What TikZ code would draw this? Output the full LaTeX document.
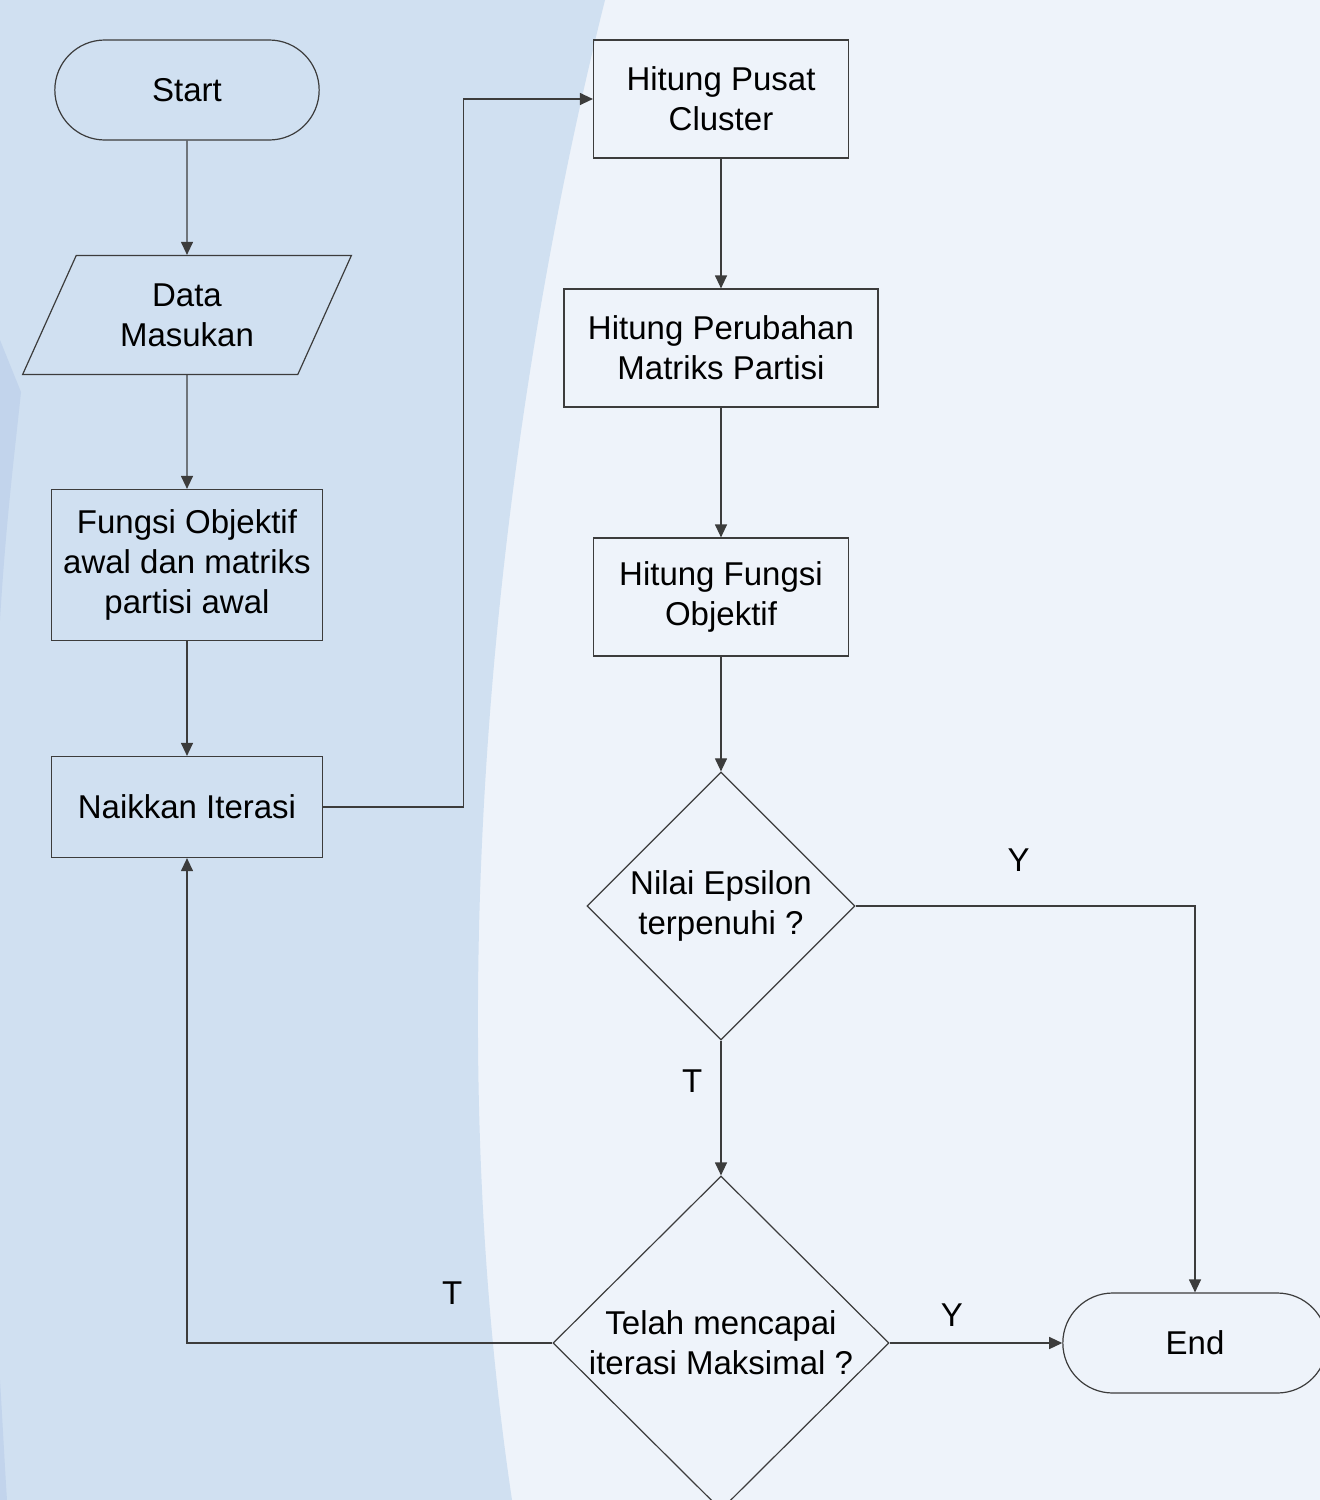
\documentclass[tikz,border=0pt]{standalone}
\usepackage{fontspec}
\setmainfont{Liberation Sans}
\usetikzlibrary{arrows.meta,shapes.geometric,shapes.misc}
\definecolor{bgLeft}{HTML}{D0E0F1}
\definecolor{bgRight}{HTML}{EEF3FA}
\definecolor{bgEdge}{HTML}{C2D4EC}
\definecolor{lineGray}{HTML}{3C3C3C}

\begin{document}
\begin{tikzpicture}[
  x=1pt, y=-1pt,
  every node/.style={font=\fontsize{33}{40}\selectfont, text=black},
  box/.style={draw=lineGray, line width=1.2pt, align=center},
  terminal/.style={draw=lineGray, line width=1.2pt, rounded rectangle,
                   minimum width=271pt, minimum height=100pt},
  io/.style={draw=lineGray, line width=1.2pt, trapezium,
             trapezium left angle=64, trapezium right angle=116,
             trapezium stretches=true, align=center,
             minimum width=329pt, minimum height=119pt},
  decision/.style={draw=lineGray, line width=1.2pt, diamond, inner sep=0pt},
  flow/.style={draw=lineGray, line width=1.2pt, -{Triangle[length=13pt,width=12pt]}},
  tag/.style={inner sep=3pt},
]
\useasboundingbox (0,0) rectangle (1320,1500);
% background
\fill[bgRight] (0,0) rectangle (1320,1500);
\fill[bgLeft] (0,0) -- (605,0) .. controls (510,380) and (430,950) .. (512,1500) -- (0,1500) -- cycle;
\fill[bgEdge] (0,340) -- (21,392) .. controls (15,450) and (6,520) .. (0,620) -- cycle;
\fill[bgEdge] (0,1380) .. controls (3,1430) and (5,1470) .. (7,1500) -- (0,1500) -- cycle;

% left column
\node[terminal] (start) at (187,90) {Start};
\node[io] (data) at (187,315) {Data\\Masukan};
\node[box, minimum width=271pt, minimum height=151pt] (awal) at (187,565)
  {Fungsi Objektif\\awal dan matriks\\partisi awal};
\node[box, minimum width=271pt, minimum height=101pt] (naik) at (187,807) {Naikkan Iterasi};

% right column
\node[box, minimum width=255pt, minimum height=118pt] (pusat) at (721,99) {Hitung Pusat\\Cluster};
\node[box, minimum width=314pt, minimum height=118pt] (ubah) at (721,348) {Hitung Perubahan\\Matriks Partisi};
\node[box, minimum width=255pt, minimum height=118pt] (fobj) at (721,597) {Hitung Fungsi\\Objektif};
\node[decision, minimum width=268pt, minimum height=268pt,
      label={[align=center]center:{Nilai Epsilon\\terpenuhi ?}}] (eps) at (721,906) {};
\node[decision, minimum width=336pt, minimum height=334pt,
      label={[align=center]center:{Telah mencapai\\iterasi Maksimal ?}}] (maks) at (721,1343) {};
\node[terminal] (stop) at (1195,1343) {End};

% connectors
\draw[flow] (start) -- (data);
\draw[flow] (data) -- (awal);
\draw[flow] (awal) -- (naik);
\draw[flow] (naik.east) -- ++(140,0) |- (pusat.west);
\draw[flow] (pusat) -- (ubah);
\draw[flow] (ubah) -- (fobj);
\draw[flow] (fobj) -- (eps);
\draw[flow] (eps.east) -| node[tag, pos=0.24, above=31pt] {Y} (stop.north);
\draw[flow] (eps.south) -- node[tag, pos=0.3, left=15pt] {T} (maks.north);
\draw[flow] (maks.east) -- node[tag, pos=0.36, above=13pt] {Y} (stop.west);
\draw[flow] (maks.west) -| node[tag, pos=0.137, above=35pt] {T} (naik.south);
\end{tikzpicture}
\end{document}
